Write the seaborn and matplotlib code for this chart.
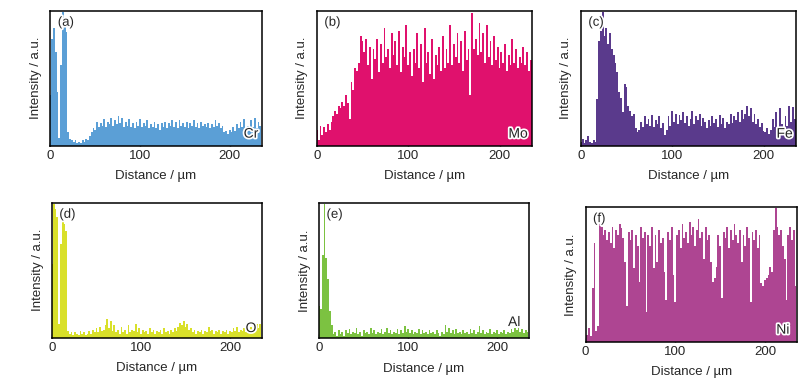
import numpy as np
import pandas as pd
import matplotlib
matplotlib.use("Agg")
import matplotlib.pyplot as plt
import matplotlib.patheffects as pe
import seaborn as sns

# distance grid (um), one reading every 2 um
distancia = np.arange(0, 236, 2)

# intensidades (% da altura do eixo)
cr = [38, 80, 88, 70, 40, 6, 60, 100, 95, 85, 10, 5, 4, 3, 4, 2, 3, 2, 4, 3,
      5, 4, 7, 10, 13, 12, 18, 14, 17, 15, 20, 14, 18, 16, 21, 15, 19, 16, 22, 17,
      21, 14, 18, 15, 20, 14, 17, 13, 18, 15, 20, 14, 17, 15, 19, 13, 16, 14, 18, 13,
      16, 12, 17, 14, 18, 13, 17, 15, 19, 14, 18, 13, 19, 15, 17, 14, 18, 13, 17, 15,
      19, 14, 17, 13, 18, 15, 16, 14, 17, 13, 16, 14, 19, 15, 17, 13, 15, 10, 11, 9,
      12, 10, 14, 11, 16, 13, 18, 14, 20, 12, 15, 13, 19, 14, 21, 13, 18, 15]
mo = [12, 4, 15, 8, 14, 10, 16, 12, 18, 22, 26, 24, 30, 28, 33, 30, 38, 32, 20, 48,
      42, 58, 56, 62, 82, 78, 70, 80, 60, 74, 50, 72, 65, 80, 55, 76, 62, 88, 66, 72,
      58, 84, 68, 78, 60, 86, 55, 74, 66, 90, 60, 70, 52, 72, 62, 84, 58, 76, 48, 88,
      62, 70, 54, 80, 50, 68, 60, 74, 56, 82, 58, 72, 62, 90, 60, 76, 66, 84, 62, 78,
      56, 86, 64, 72, 38, 99, 72, 80, 68, 92, 70, 84, 62, 90, 66, 78, 60, 82, 64, 74,
      58, 70, 62, 76, 56, 68, 60, 80, 62, 72, 58, 66, 62, 74, 60, 70, 56, 64]
fe = [3, 5, 2, 4, 7, 3, 2, 4, 3, 35, 78, 86, 100, 82, 88, 76, 84, 72, 68, 62,
      55, 40, 36, 25, 46, 44, 30, 26, 22, 24, 13, 10, 12, 18, 14, 22, 16, 20, 15, 23,
      14, 19, 16, 22, 13, 17, 8, 12, 22, 15, 26, 18, 24, 16, 23, 19, 25, 17, 22, 15,
      20, 26, 16, 22, 19, 24, 15, 21, 18, 13, 19, 15, 22, 17, 20, 14, 23, 16, 21, 13,
      18, 16, 24, 17, 22, 19, 25, 18, 27, 20, 24, 30, 22, 28, 18, 24, 16, 20, 14, 17,
      11, 10, 13, 9, 12, 20, 14, 25, 13, 28, 16, 12, 22, 15, 30, 18, 29, 20]
o = [55, 100, 96, 90, 10, 70, 87, 85, 80, 5, 3, 4, 2, 4, 3, 2, 5, 3, 4, 2,
     3, 5, 3, 6, 4, 7, 4, 8, 5, 6, 9, 14, 7, 12, 5, 9, 4, 6, 3, 8,
     4, 6, 3, 9, 4, 6, 5, 10, 4, 7, 3, 6, 4, 5, 3, 7, 4, 6, 3, 5,
     4, 6, 3, 7, 4, 5, 3, 6, 4, 7, 5, 8, 11, 9, 12, 8, 10, 6, 7, 4,
     6, 3, 5, 4, 6, 3, 5, 4, 8, 5, 6, 3, 5, 4, 6, 3, 5, 4, 6, 3,
     5, 4, 7, 5, 8, 4, 6, 5, 7, 4, 6, 5, 8, 6, 9, 10, 7, 10]
al = [24, 22, 62, 100, 60, 44, 20, 10, 3, 5, 2, 6, 3, 5, 2, 6, 4, 7, 3, 5,
      4, 8, 3, 5, 2, 6, 4, 5, 3, 8, 4, 6, 3, 5, 4, 7, 3, 5, 8, 4,
      6, 3, 5, 4, 7, 3, 6, 4, 9, 5, 7, 4, 6, 3, 5, 4, 7, 3, 6, 4,
      5, 3, 6, 4, 5, 3, 6, 4, 2, 5, 3, 10, 5, 8, 4, 6, 3, 7, 4, 5,
      3, 6, 4, 5, 3, 7, 4, 6, 3, 5, 9, 4, 6, 3, 5, 4, 7, 3, 5, 4,
      6, 3, 5, 4, 6, 3, 5, 4, 7, 5, 8, 6, 9, 5, 7, 4, 6, 5]
ni = [3, 5, 10, 4, 40, 74, 8, 12, 90, 86, 80, 84, 76, 82, 74, 86, 70, 84, 80, 88,
      85, 78, 60, 27, 82, 76, 84, 55, 80, 72, 45, 86, 78, 82, 22, 80, 72, 86, 55, 80,
      60, 84, 74, 78, 52, 31, 82, 76, 86, 50, 30, 80, 84, 70, 88, 78, 82, 74, 90, 80,
      86, 72, 84, 92, 78, 82, 62, 86, 76, 80, 60, 45, 48, 56, 80, 72, 33, 82, 78, 86,
      70, 84, 76, 88, 80, 74, 84, 60, 80, 72, 86, 78, 30, 82, 76, 84, 70, 80, 44, 42,
      46, 48, 50, 56, 52, 84, 100, 86, 80, 84, 72, 62, 31, 80, 86, 76, 84, 42]

paineis = ["(a)", "(b)", "(c)", "(d)", "(e)", "(f)"]
elementos = ["Cr", "Mo", "Fe", "O", "Al", "Ni"]
series = [cr, mo, fe, o, al, ni]
cores = ["#5b9fd6", "#e0116d", "#5a3a8c", "#d9e02a", "#7cc241", "#ae4592"]

# posicoes dos eixos em fracao da figura
posicoes = [
    [0.063, 0.628, 0.264, 0.345],
    [0.396, 0.628, 0.269, 0.345],
    [0.726, 0.628, 0.269, 0.345],
    [0.065, 0.139, 0.262, 0.344],
    [0.399, 0.137, 0.262, 0.346],
    [0.732, 0.128, 0.264, 0.344],
]
pos_elem = [(0.985, 0.09), (0.98, 0.09), (0.985, 0.09),
            (0.975, 0.07), (0.96, 0.12), (0.965, 0.09)]

sns.set_theme(style="ticks")
plt.rcParams['font.family'] = ['Liberation Sans', 'DejaVu Sans']

fig = plt.figure(figsize=(8, 3.92), dpi=100)

for i in range(6):
    ax = fig.add_axes(posicoes[i])
    df = pd.DataFrame({'distancia': distancia, 'intensidade': series[i]})
    # barras finas, uma por leitura
    sns.histplot(data=df, x='distancia', weights='intensidade', binwidth=2,
                 binrange=(-1, 235), color=cores[i], alpha=1, linewidth=0,
                 element='bars', ax=ax)
    ax.set_xlim(0, 235.5)
    ax.set_ylim(0, 101)
    ax.set_yticks([])
    ax.set_xticks([0, 100, 200])
    ax.tick_params(axis='x', direction='in', length=3, width=1, labelsize=9.5, pad=3)
    for s in ax.spines.values():
        s.set_linewidth(1.1)
        s.set_color('black')
    ax.set_xlabel('Distance / µm', fontsize=9.5, labelpad=6)
    ax.set_ylabel('Intensity / a.u.', fontsize=9.5, labelpad=6)
    ax.text(0.035, 0.91, paineis[i], transform=ax.transAxes, fontsize=9.5,
            ha='left', va='center',
            path_effects=[pe.withStroke(linewidth=2.5, foreground='white')])
    ax.text(pos_elem[i][0], pos_elem[i][1], elementos[i], transform=ax.transAxes,
            fontsize=10, ha='right', va='center',
            path_effects=[pe.withStroke(linewidth=2.5, foreground='white')])

plt.savefig('out.png', dpi=100)
plt.close()
